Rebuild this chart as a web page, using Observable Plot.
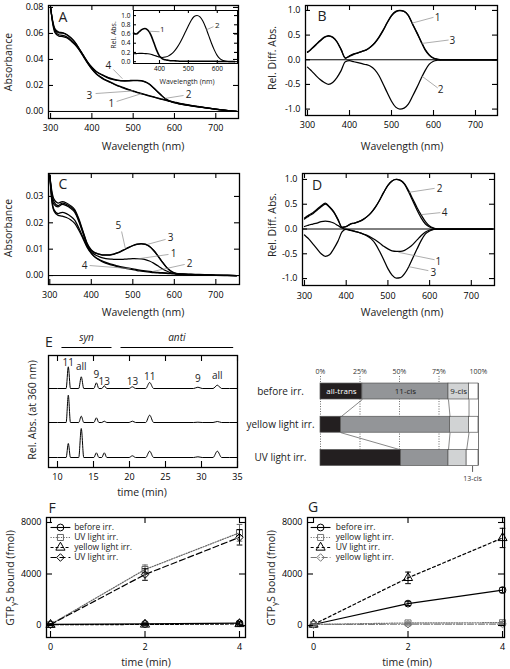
<!DOCTYPE html>
<html><head><meta charset="utf-8">
<script src="https://cdn.jsdelivr.net/npm/d3@7"></script>
<script src="https://cdn.jsdelivr.net/npm/@observablehq/plot@0.6"></script>
<style>
body{margin:0;background:#fff;}
#root{position:relative;width:510px;height:669px;overflow:hidden;background:#fff;font-family:"Open Sans",sans-serif;font-weight:400;color:#000;}
#root svg{position:absolute;left:0;top:0;}
.t{position:absolute;white-space:nowrap;transform:translate(-50%,-50%);line-height:1;font-weight:400;color:#222;}
.r{transform:translate(-50%,-50%) rotate(-90deg);}
</style></head><body><div id="root"></div><script>
// ---------------- DATA ----------------
const wlMain = [300,305,310,320,330,340,350,360,370,380,390,400,410,420,430,440,450,460,470,480,490,500,510,520,530,540,550,560,570,580,590,600,610,620,640,660,700,750];
// Panel A absorbance spectra
const absA1 = [.080,.068,.061,.058,.0575,.0565,.054,.051,.047,.042,.037,.0325,.029,.0265,.0245,.023,.0215,.020,.0188,.0176,.0165,.0155,.0145,.0136,.0127,.0118,.011,.0101,.0093,.0085,.0077,.007,.0063,.0057,.0046,.0036,.0018,0];
const absA2 = [.080,.069,.063,.0605,.0602,.0588,.0562,.0527,.0478,.0428,.0378,.0338,.0308,.0288,.0272,.0257,.0247,.024,.0235,.0234,.0235,.0237,.0237,.0235,.0225,.0207,.0178,.0148,.0118,.0093,.0077,.0067,.0059,.0053,.0043,.0034,.0017,0];
const absA3 = [.080,.069,.0625,.059,.0585,.0572,.0547,.0515,.0474,.0423,.0372,.0328,.0293,.0268,.0248,.0233,.0218,.0203,.0191,.0179,.0168,.0158,.0148,.0139,.013,.0121,.0112,.0103,.0095,.0087,.0079,.0072,.0065,.0059,.0047,.0037,.0019,0];
const absA4 = [.080,.070,.064,.061,.0605,.059,.0565,.053,.048,.043,.038,.034,.031,.029,.0275,.026,.025,.0243,.0238,.0237,.0238,.024,.024,.0238,.0228,.021,.018,.015,.012,.0095,.0078,.0068,.006,.0054,.0044,.0035,.0018,0];
const labelsA = [
  {t:"4", lx:440, ly:.0354, x1:452, y1:.0323, x2:474, y2:.0252},
  {t:"3", lx:394, ly:.0123, x1:409, y1:.0138, x2:500, y2:.0158},
  {t:"1", lx:447, ly:.0062, x1:460, y1:.0077, x2:520, y2:.0137},
  {t:"2", lx:634, ly:.0131, x1:622, y1:.0123, x2:578, y2:.0101}
];
// Inset of A
const wlInset = [310,320,330,340,350,360,370,380,390,400,410,420,430,440,450,460,470,480,490,500,510,520,530,540,550,560,570,580,590,600,610,620,630,640,650,660];
const relInset1 = [.62,.6,.65,.7,.72,.68,.58,.42,.25,.12,.06,.04,.03,.02,.02,.015,.01,.01,.01,.01,.01,.01,.01,.01,.01,.01,.01,.01,.01,.005,.005,.005,.005,.005,.005,.005];
const relInset2 = [.17,.175,.18,.18,.175,.17,.16,.14,.12,.1,.09,.1,.12,.16,.22,.3,.4,.52,.65,.78,.9,.98,1.0,.97,.88,.74,.57,.4,.25,.13,.06,.025,.01,0,0,0];
const labelsInset = [
  {t:"1", lx:410, ly:.70, x1:400, y1:.65, x2:365, y2:.66},
  {t:"2", lx:600, ly:.78, x1:587, y1:.76, x2:562, y2:.69}
];
// Panel B difference spectra
const diffB1 = [.15,.18,.22,.3,.38,.45,.48,.45,.36,.2,.03,.08,.12,.14,.17,.2,.26,.34,.46,.6,.76,.9,.98,1.0,.98,.9,.72,.55,.37,.2,.09,.03,.01,0,0,0,0,0];
const diffB2 = [-.15,-.19,-.23,-.32,-.4,-.46,-.5,-.46,-.36,-.22,-.04,-.02,-.04,-.06,-.08,-.1,-.13,-.2,-.32,-.49,-.67,-.84,-.96,-1.0,-.98,-.9,-.74,-.57,-.39,-.22,-.09,-.03,-.01,0,0,0,0,0];
const diffB3 = [.16,.19,.23,.31,.39,.46,.49,.46,.37,.21,.04,.07,.11,.14,.17,.2,.26,.34,.45,.59,.75,.89,.97,.995,.98,.9,.73,.56,.38,.21,.1,.035,.01,0,0,0,0,0];
const labelsB = [
  {t:"1", lx:610, ly:.85, x1:600, y1:.86, x2:548, y2:.74},
  {t:"3", lx:645, ly:.38, x1:636, y1:.40, x2:572, y2:.33},
  {t:"2", lx:617, ly:-.61, x1:610, y1:-.57, x2:572, y2:-.33}
];
// Panel C absorbance spectra
const absC1 = [.038,.03,.027,.026,.027,.0265,.0255,.024,.0205,.016,.0115,.009,.0078,.0071,.0066,.0063,.0062,.0061,.0061,.0062,.0063,.0064,.0064,.0063,.006,.0055,.0047,.0037,.0027,.0018,.0011,.0007,.0005,.0004,.0003,.0002,.0001,0];
const absC2 = [.038,.029,.025,.0235,.024,.0235,.0225,.021,.018,.0145,.011,.0085,.0068,.0058,.005,.0044,.0039,.0035,.0031,.0028,.0025,.0022,.0019,.0017,.0015,.0013,.0011,.001,.0009,.0008,.0007,.0006,.0005,.0005,.0004,.0003,.0001,0];
const absC3 = [.038,.031,.028,.0265,.0275,.027,.026,.0245,.021,.0165,.012,.0095,.0085,.008,.0077,.0077,.0079,.0084,.009,.0098,.0106,.0113,.0118,.012,.0118,.011,.0095,.0075,.0053,.0033,.0018,.0009,.0005,.0004,.0003,.0002,.0001,0];
const absC4 = [.038,.028,.0245,.0228,.0225,.022,.0212,.0198,.0172,.014,.0107,.0084,.0069,.006,.0053,.0047,.0042,.0038,.0034,.0031,.0028,.0025,.0022,.002,.0018,.0016,.0014,.0012,.0011,.001,.0009,.0008,.0007,.0006,.0005,.0004,.0002,0];
const absC5 = [.038,.032,.029,.0275,.028,.0275,.0265,.025,.0215,.0168,.0122,.0097,.0086,.0081,.0078,.0078,.008,.0085,.0091,.0099,.0107,.0114,.0119,.0121,.0119,.0111,.0096,.0076,.0054,.0034,.0019,.001,.0006,.0004,.0003,.0002,.0001,0];
const labelsC = [
  {t:"5", lx:465, ly:.019, x1:473, y1:.0167, x2:482, y2:.0103},
  {t:"3", lx:591, ly:.0144, x1:579, y1:.0137, x2:535, y2:.0118},
  {t:"1", lx:598, ly:.0084, x1:586, y1:.0080, x2:506, y2:.0062},
  {t:"2", lx:637, ly:.0046, x1:625, y1:.0042, x2:547, y2:.0015},
  {t:"4", lx:384, ly:.0038, x1:396, y1:.0038, x2:495, y2:.0026}
];
// Panel D difference spectra
const diffD1 = [.05,.065,.08,.1,.12,.15,.16,.15,.12,.07,.02,-.01,-.03,-.05,-.07,-.1,-.13,-.17,-.22,-.28,-.35,-.4,-.44,-.45,-.45,-.43,-.38,-.31,-.22,-.13,-.06,-.02,-.005,0,0,0,0,0];
const diffD2 = [.22,.25,.28,.33,.4,.47,.52,.45,.35,.2,.04,.05,.1,.12,.15,.19,.25,.33,.44,.58,.74,.88,.97,1.0,.98,.9,.74,.56,.38,.22,.1,.04,.01,0,0,0,0,0];
const diffD3 = [-.12,-.16,-.2,-.3,-.4,-.5,-.55,-.52,-.4,-.25,-.06,0,-.02,-.04,-.07,-.1,-.14,-.2,-.3,-.45,-.62,-.8,-.93,-.99,-.98,-.9,-.76,-.58,-.4,-.23,-.1,-.04,-.01,0,0,0,0,0];
const diffD4 = [.2,.23,.26,.31,.38,.45,.5,.44,.34,.19,.03,.05,.1,.12,.15,.19,.25,.33,.44,.58,.74,.88,.97,1.0,.98,.91,.77,.6,.43,.28,.15,.06,.02,0,0,0,0,0];
const labelsD = [
  {t:"2", lx:624, ly:.82, x1:612, y1:.82, x2:550, y2:.74},
  {t:"4", lx:636, ly:.33, x1:626, y1:.33, x2:580, y2:.29},
  {t:"1", lx:621, ly:-.66, x1:612, y1:-.62, x2:525, y2:-.47},
  {t:"3", lx:609, ly:-.88, x1:597, y1:-.84, x2:550, y2:-.76}
];
// Panel E HPLC chromatograms
const peakNames = ["11","all","9","13","13","11","9","all"];
const peakTimes = [11.5, 13.3, 15.4, 16.5, 20.4, 22.8, 29.5, 32.2];
const peakHalfWidths = [0.3, 0.35, 0.35, 0.35, 0.45, 0.55, 0.6, 0.6];
const peaksBefore = [21.7, 11.7, 5.7, 2.7, 1.7, 6.0, 1.3, 3.3];
const peaksYellow = [27.3, 6.3, 4.7, 1.3, 1.3, 7.3, 0.3, 1.0];
const peaksUV = [14.0, 29.0, 4.7, 4.7, 1.7, 6.3, 0.7, 6.3];
const traceBaselines = [69, 35, 0];
const peakLabelY = [95, 91, 83, 76, 76, 81, 79, 82];
const groupNames = ["syn", "anti"];
const groupStart = [10.55, 18.75];
const groupEnd = [17.5, 34.4];
// Isomer composition (%)
const irrConditions = ["before irr.", "yellow light irr.", "UV light irr."];
const isomers = ["all-trans", "11-cis", "9-cis", "13-cis"];
const pctAllTrans = [26.5, 13, 51];
const pct11cis = [54.5, 69, 30];
const pct9cis = [13, 12, 11.5];
const pct13cis = [6, 6, 7.5];
const pctTicks = [0, 25, 50, 75, 100];
// Panels F and G: GTPγS binding (fmol)
const timesMin = [0, 2, 4];
const namesF = ["before irr.", "UV light irr.", "yellow light irr.", "UV light irr."];
const fBefore = [80, 120, 180], fBeforeErr = [50, 80, 120];
const fUVsq = [80, 4350, 7200], fUVsqErr = [40, 350, 650];
const fYellow = [60, 80, 120], fYellowErr = [40, 60, 80];
const fUVdia = [80, 3960, 6850], fUVdiaErr = [40, 450, 600];
const namesG = ["before irr.", "yellow light irr.", "UV light irr.", "yellow light irr."];
const gBefore = [80, 1700, 2750], gBeforeErr = [40, 150, 200];
const gYellowSq = [80, 200, 220], gYellowSqErr = [40, 60, 80];
const gUV = [80, 3700, 6800], gUVErr = [40, 450, 750];
const gYellowDia = [80, 100, 110], gYellowDiaErr = [40, 50, 50];

// ---------------- HELPERS ----------------
const root = document.getElementById("root");
const FONT = "'Open Sans', sans-serif";
function series(wl, vals, id){ return wl.map((w,i)=>({wl:w, v:vals[i], id})); }
function panel(f, marks){
  const svg = Plot.plot({
    width: 510, height: 669,
    marginLeft: f.L, marginRight: 510 - f.R, marginTop: f.T, marginBottom: 669 - f.B,
    x: {domain: f.xd, axis: null, label: null},
    y: {domain: f.yd, axis: null, label: null, reverse: !!f.rev},
    color: {type: "identity"},
    style: {background: "none", fontFamily: FONT, fontSize: (f.fs || 9) + "px", color: "#000", overflow: "visible"},
    marks
  });
  root.appendChild(svg);
}
function inTicks(f, xt, yt, len = 5){
  const W = f.R - f.L, H = f.B - f.T, m = [];
  if (xt) {
    m.push(Plot.tickX(xt, {x: d => d, insetTop: H - len, stroke: "#000", strokeWidth: 1.1}));
    m.push(Plot.tickX(xt, {x: d => d, insetBottom: H - len, stroke: "#000", strokeWidth: 1.1}));
  }
  if (yt) {
    m.push(Plot.tickY(yt, {y: d => d, insetRight: W - len, stroke: "#000", strokeWidth: 1.1}));
    m.push(Plot.tickY(yt, {y: d => d, insetLeft: W - len, stroke: "#000", strokeWidth: 1.1}));
  }
  return m;
}
function leaders(labels, fs = 10){
  return [
    Plot.link(labels, {x1: "x1", y1: "y1", x2: "x2", y2: "y2", stroke: "#8a8a8a", strokeWidth: 0.7}),
    Plot.text(labels, {x: "lx", y: "ly", text: "t", fontSize: fs, fill: "#222"})
  ];
}
function spectra(curves, wl){
  return curves.map(([vals, id]) => Plot.line(series(wl, vals, id), {x: "wl", y: "v", stroke: "#000", strokeWidth: 1.25, curve: "monotone-x"}));
}
function addText(html, x, y, size, cls = "", extra = ""){
  const d = document.createElement("div");
  d.className = "t " + cls;
  d.style.cssText = `left:${x}px;top:${y}px;font-size:${size}px;${extra}`;
  d.innerHTML = html;
  root.appendChild(d);
}

// ---------------- PANEL A ----------------
const fA = {L: 48, R: 238, T: 5, B: 118, xd: [295, 755], yd: [-0.0054, 0.0815]};
panel(fA, [
  Plot.ruleY([0], {stroke: "#000", strokeWidth: 1}),
  ...spectra([[absA1, "1"], [absA2, "2"], [absA3, "3"], [absA4, "4"]], wlMain),
  ...leaders(labelsA),
  ...inTicks(fA, [300, 400, 500, 600, 700], [0, .02, .04, .06, .08]),
  Plot.frame({stroke: "#000", strokeWidth: 1.3}),
  Plot.axisX([300, 400, 500, 600, 700], {anchor: "bottom", tickSize: 0, tickPadding: 6, tickFormat: d => String(d)}),
  Plot.axisY([0, .02, .04, .06, .08], {anchor: "left", tickSize: 0, tickPadding: 5, tickFormat: d => d.toFixed(2)})
]);
// Inset
const fI = {L: 133, R: 237, T: 10, B: 63, xd: [310, 670], yd: [-0.04, 1.11], fs: 6.5};
panel(fI, [
  ...[[relInset1, "1"], [relInset2, "2"]].map(([vals, id]) => Plot.line(series(wlInset, vals, id), {x: "wl", y: "v", stroke: "#000", strokeWidth: id === "1" ? 1.6 : 1.1, curve: "monotone-x"})),
  ...leaders(labelsInset, 8),
  ...inTicks(fI, [400, 500, 600], [0, .2, .4, .6, .8, 1.0], 3),
  Plot.frame({stroke: "#000", strokeWidth: 1}),
  Plot.axisX([400, 500, 600], {anchor: "bottom", tickSize: 0, tickPadding: 3, tickFormat: d => String(d)}),
  Plot.axisY([0, .2, .4, .6, .8, 1.0], {anchor: "left", tickSize: 0, tickPadding: 3, tickFormat: d => d.toFixed(1)})
]);

// ---------------- PANEL B ----------------
const fB = {L: 305, R: 497, T: 5, B: 115, xd: [295.2, 752.4], yd: [-1.13, 1.1]};
panel(fB, [
  Plot.ruleY([0], {stroke: "#000", strokeWidth: 1}),
  ...spectra([[diffB1, "1"], [diffB2, "2"], [diffB3, "3"]], wlMain),
  ...leaders(labelsB),
  ...inTicks(fB, [300, 400, 500, 600, 700], [-1, -.5, 0, .5, 1]),
  Plot.frame({stroke: "#000", strokeWidth: 1.3}),
  Plot.axisX([300, 400, 500, 600, 700], {anchor: "bottom", tickSize: 0, tickPadding: 6, tickFormat: d => String(d)}),
  Plot.axisY([-1, -.5, 0, .5, 1], {anchor: "left", tickSize: 0, tickPadding: 5, tickFormat: d => d.toFixed(1)})
]);

// ---------------- PANEL C ----------------
const fC = {L: 48, R: 239, T: 173, B: 284, xd: [296.9, 757], yd: [-0.0034, 0.0387]};
panel(fC, [
  Plot.ruleY([0], {stroke: "#000", strokeWidth: 1}),
  ...spectra([[absC1, "1"], [absC2, "2"], [absC3, "3"], [absC4, "4"], [absC5, "5"]], wlMain),
  ...leaders(labelsC),
  ...inTicks(fC, [300, 400, 500, 600, 700], [0, .01, .02, .03]),
  Plot.frame({stroke: "#000", strokeWidth: 1.3}),
  Plot.axisX([300, 400, 500, 600, 700], {anchor: "bottom", tickSize: 0, tickPadding: 7, tickFormat: d => String(d)}),
  Plot.axisY([0, .01, .02, .03], {anchor: "left", tickSize: 0, tickPadding: 5, tickFormat: d => d.toFixed(2)})
]);

// ---------------- PANEL D ----------------
const fD = {L: 302, R: 494, T: 173, B: 285, xd: [295.2, 755.6], yd: [-1.14, 1.12]};
panel(fD, [
  Plot.ruleY([0], {stroke: "#000", strokeWidth: 1}),
  ...spectra([[diffD1, "1"], [diffD2, "2"], [diffD3, "3"], [diffD4, "4"]], wlMain),
  ...leaders(labelsD),
  ...inTicks(fD, [300, 400, 500, 600, 700], [-1, -.5, 0, .5, 1]),
  Plot.frame({stroke: "#000", strokeWidth: 1.3}),
  Plot.axisX([300, 400, 500, 600, 700], {anchor: "bottom", tickSize: 0, tickPadding: 7, tickFormat: d => String(d)}),
  Plot.axisY([-1, -.5, 0, .5, 1], {anchor: "left", tickSize: 0, tickPadding: 5, tickFormat: d => d.toFixed(1)})
]);

// ---------------- PANEL E ----------------
function trace(heights, base, id){
  const pts = [{t: 8.8, v: base, id}];
  peakTimes.forEach((t, i) => {
    const w = peakHalfWidths[i];
    pts.push({t: t - w, v: base, id}, {t, v: base + heights[i], id}, {t: t + w, v: base, id});
  });
  pts.push({t: 35, v: base, id});
  return pts;
}
const fE = {L: 48, R: 237, T: 355, B: 467, xd: [8.75, 35], yd: [-10, 102]};
const eTraces = [peaksBefore, peaksYellow, peaksUV].map((h, i) => trace(h, traceBaselines[i], irrConditions[i]));
const eLabels = peakNames.map((n, i) => ({n, t: peakTimes[i], y: peakLabelY[i]}));
const eGroups = groupNames.map((g, i) => ({g, a: groupStart[i], b: groupEnd[i]}));
panel(fE, [
  ...eTraces.map(tr => Plot.line(tr, {x: "t", y: "v", stroke: "#000", strokeWidth: 1, curve: "monotone-x"})),
  Plot.text(eLabels, {x: "t", y: "y", text: "n", fontSize: 10, fill: "#222"}),
  Plot.link(eGroups, {x1: "a", x2: "b", y1: () => 110, y2: () => 110, stroke: "#000", strokeWidth: 1}),
  Plot.text(eGroups, {x: d => (d.a + d.b) / 2, y: () => 120, text: "g", fontSize: 10, fontStyle: "italic", fill: "#222"}),
  ...inTicks(fE, [10, 15, 20, 25, 30, 35], null, 6),
  Plot.frame({stroke: "#000", strokeWidth: 1.3}),
  Plot.axisX([10, 15, 20, 25, 30, 35], {anchor: "bottom", tickSize: 0, tickPadding: 6, tickFormat: d => String(d)})
]);

// ---------------- Isomer composition bars ----------------
const pctParts = [pctAllTrans, pct11cis, pct9cis, pct13cis];
const isoFill = ["#231f20", "#939598", "#d1d3d4", "#ffffff"];
const cum = irrConditions.map((c, i) => { let a = 0; return pctParts.map(p => (a += p[i])); });
const barRows = irrConditions.flatMap((c, i) => pctParts.map((p, k) => ({i, k, x1: k ? cum[i][k - 1] : 0, x2: cum[i][k], fill: isoFill[k]})));
const HALF = 0.24;
const connectors = [0, 1].flatMap(i => [0, 1, 2].map(k => ({xa: cum[i][k], xb: cum[i + 1][k], ya: i + HALF, yb: i + 1 - HALF})));
const segLabels = [0, 1, 2].map(k => ({k, x: ((k ? cum[0][k - 1] : 0) + cum[0][k]) / 2, text: isomers[k]}));
const cis13 = [{x: (cum[2][2] + cum[2][3]) / 2, text: isomers[3]}];
const fBar = {L: 320, R: 478, T: 374.4, B: 474.1, xd: [0, 100], yd: [-0.5, 2.5], rev: true, fs: 7};
panel(fBar, [
  Plot.ruleX([0, 25, 50, 75], {y1: -0.45, y2: 2 + HALF, stroke: "#444", strokeWidth: 0.8, strokeDasharray: "1,1.5"}),
  Plot.ruleX([100], {y1: -HALF, y2: 2 + HALF, stroke: "#666", strokeWidth: 0.9}),
  Plot.rect(barRows, {x1: "x1", x2: "x2", y1: d => d.i - HALF, y2: d => d.i + HALF, fill: "fill", stroke: "#555", strokeWidth: 0.7}),
  Plot.link(connectors, {x1: "xa", x2: "xb", y1: "ya", y2: "yb", stroke: "#555", strokeWidth: 0.7}),
  Plot.text(segLabels, {x: "x", y: () => 0, text: "text", fontSize: 8, fill: d => d.k === 0 ? "#fff" : "#222"}),
  Plot.link(cis13, {x1: "x", x2: "x", y1: () => 2 + HALF, y2: () => 2.42, stroke: "#333", strokeWidth: 0.8}),
  Plot.text(cis13, {x: "x", y: () => 2.62, text: "text", fontSize: 7, fill: "#333"}),
  Plot.axisX(pctTicks, {anchor: "top", tickSize: 0, tickPadding: 1, tickFormat: d => d + "%", fontSize: 7, fill: "#333"}),
  Plot.axisY([0, 1, 2], {anchor: "left", tickSize: 0, tickPadding: 40, textAnchor: "middle", tickFormat: i => irrConditions[i], fontSize: 10, fill: "#222"})
]);

// ---------------- PANELS F & G ----------------
function kinetics(f, names, means, errs, styles, leg){
  const m = [];
  means.forEach((vals, s) => {
    const st = styles[s];
    const rows = timesMin.map((t, i) => ({t, v: vals[i], e: errs[s][i]}));
    m.push(Plot.line(rows, {x: "t", y: "v", stroke: st.color, strokeWidth: 1.2, strokeDasharray: st.dash}));
    m.push(Plot.ruleX(rows, {x: "t", y1: d => d.v - d.e, y2: d => d.v + d.e, stroke: st.color, strokeWidth: 1}));
    m.push(Plot.link(rows, {x1: d => d.t - 0.06, x2: d => d.t + 0.06, y1: d => d.v + d.e, y2: d => d.v + d.e, stroke: st.color, strokeWidth: 1}));
    m.push(Plot.link(rows, {x1: d => d.t - 0.06, x2: d => d.t + 0.06, y1: d => d.v - d.e, y2: d => d.v - d.e, stroke: st.color, strokeWidth: 1}));
    m.push(Plot.dot(rows, {x: "t", y: "v", symbol: st.symbol, r: 3.4, stroke: st.color, strokeWidth: 1, fill: "none"}));
    const ly = leg.top - s * leg.step;
    const row = [{a: leg.x0, b: leg.x1, y: ly, n: names[s]}];
    m.push(Plot.link(row, {x1: "a", x2: "b", y1: "y", y2: "y", stroke: st.color, strokeWidth: 1.1, strokeDasharray: st.dash}));
    m.push(Plot.dot(row, {x: d => (d.a + d.b) / 2, y: "y", symbol: st.symbol, r: 3.4, stroke: st.color, strokeWidth: 1, fill: "none"}));
    m.push(Plot.text(row, {x: () => leg.xt, y: "y", text: "n", textAnchor: "start", fontSize: 8.5, fill: "#222"}));
  });
  return m;
}
const stylesF = [
  {symbol: "circle", dash: null, color: "#000"},
  {symbol: "square", dash: "1.2,1.4", color: "#666"},
  {symbol: "triangle", dash: "3,2", color: "#000"},
  {symbol: "diamond2", dash: "6,3", color: "#000"}
];
const stylesG = [
  {symbol: "circle", dash: null, color: "#000"},
  {symbol: "square", dash: "1.2,1.4", color: "#777"},
  {symbol: "triangle", dash: "3,2.5", color: "#000"},
  {symbol: "diamond2", dash: "6,2,1,2", color: "#777"}
];
const fF = {L: 46, R: 245, T: 517, B: 637, xd: [-0.085, 4.127], yd: [-932, 8388]};
panel(fF, [
  ...kinetics(fF, namesF, [fBefore, fUVsq, fYellow, fUVdia], [fBeforeErr, fUVsqErr, fYellowErr, fUVdiaErr], stylesF, {top: 7612, step: 777, x0: 0, x1: 0.42, xt: 0.5}),
  ...inTicks(fF, timesMin, [0, 4000, 8000], 6),
  Plot.frame({stroke: "#000", strokeWidth: 1.3}),
  Plot.axisX(timesMin, {anchor: "bottom", tickSize: 0, tickPadding: 6, tickFormat: d => String(d)}),
  Plot.axisY([0, 4000, 8000], {anchor: "left", tickSize: 0, tickPadding: 5, tickFormat: d => String(d)})
]);
const fG = {L: 307, R: 504, T: 517, B: 637, xd: [-0.127, 4.042], yd: [-932, 8388]};
panel(fG, [
  ...kinetics(fG, namesG, [gBefore, gYellowSq, gUV, gYellowDia], [gBeforeErr, gYellowSqErr, gUVErr, gYellowDiaErr], stylesG, {top: 7612, step: 777, x0: -0.06, x1: 0.36, xt: 0.47}),
  ...inTicks(fG, timesMin, [0, 4000, 8000], 6),
  Plot.frame({stroke: "#000", strokeWidth: 1.3}),
  Plot.axisX(timesMin, {anchor: "bottom", tickSize: 0, tickPadding: 6, tickFormat: d => String(d)}),
  Plot.axisY([0, 4000, 8000], {anchor: "left", tickSize: 0, tickPadding: 5, tickFormat: d => String(d)})
]);

// ---------------- TEXT (titles, panel letters) ----------------
addText("A", 63, 17, 14);
addText("B", 322, 16, 14);
addText("C", 63, 184, 14);
addText("D", 317, 185, 14);
addText("E", 49, 342, 14);
addText("F", 52, 508, 14);
addText("G", 313, 507, 14);
addText("Wavelength (nm)", 143, 146, 10.5);
addText("Wavelength (nm)", 402, 146, 10.5);
addText("Wavelength (nm)", 143, 312, 10.5);
addText("Wavelength (nm)", 402, 312, 10.5);
addText("Absorbance", 8, 62, 10.5, "r");
addText("Absorbance", 8, 228, 10.5, "r");
addText("Rel. Diff. Abs.", 272, 58, 10.5, "r");
addText("Rel. Diff. Abs.", 272, 225, 10.5, "r");
addText("Rel. Abs.", 113, 35, 7, "r");
addText("Wavelength (nm)", 187, 81, 7);
addText("time (min)", 142, 492, 10.5);
addText("Rel. Abs. (at 360 nm)", 32, 410, 10.5, "r");
addText("time (min)", 146, 662, 10.5);
addText("time (min)", 407, 662, 10.5);
addText("GTP<sub style='font-size:8px;vertical-align:-2px'>γ</sub>S bound (fmol)", 11, 578, 10.5, "r");
addText("GTP<sub style='font-size:8px;vertical-align:-2px'>γ</sub>S bound (fmol)", 272, 578, 10.5, "r");
</script></body></html>
